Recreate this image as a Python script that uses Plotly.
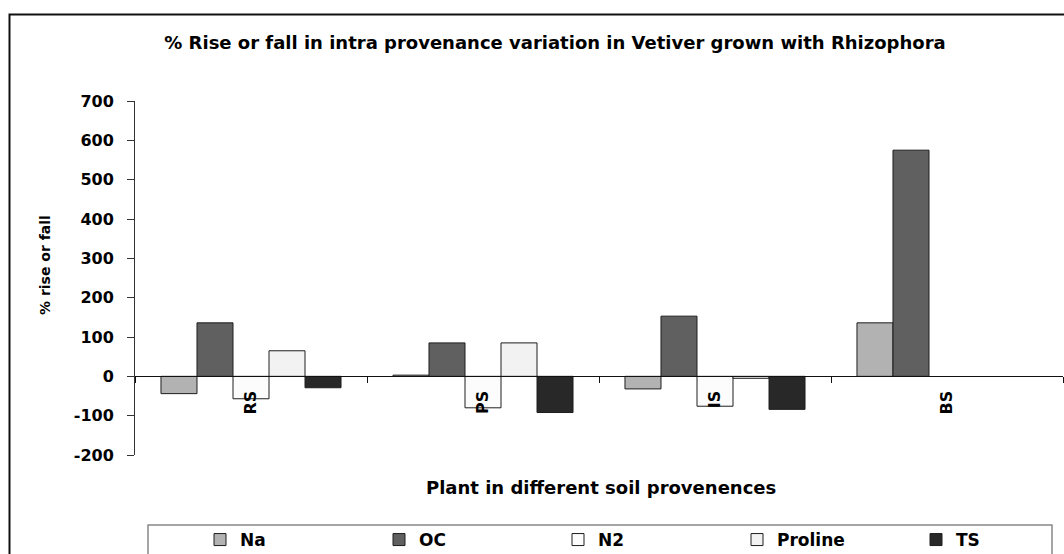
import plotly.graph_objects as go

categories = ["RS", "PS", "IS", "BS"]
series_names = ["Na", "OC", "N2", "Proline", "TS"]
na_values = [-44, 3, -32, 136]
oc_values = [136, 85, 153, 575]
n2_values = [-57, -80, -76, None]
proline_values = [65, 85, -5, None]
ts_values = [-29, -92, -84, None]
y_ticks = [-200, -100, 0, 100, 200, 300, 400, 500, 600, 700]
y_tick_labels = ["-200", "-100", "0", "100", "200", "300", "400", "500", "600", "700"]

title_text = "% Rise or fall in intra provenance variation in Vetiver grown with Rhizophora"
x_title = "Plant in different soil provenences"
y_title = "% rise or fall"

colors = ["#b2b2b2", "#606060", "#fcfcfc", "#f2f2f2", "#282828"]
values = [na_values, oc_values, n2_values, proline_values, ts_values]

W, H = 1064, 554
ML, MR, MT, MB = 135, 1, 101, 99
PW = W - ML - MR
PH = H - MT - MB

def px_x(px):
    return (px - ML) / PW

def px_y(py):
    return (H - MB - py) / PH

FONT = "DejaVu Sans"

fig = go.Figure()
for name, vals, col in zip(series_names, values, colors):
    fig.add_trace(go.Bar(
        name=name, x=categories, y=vals,
        marker=dict(color=col, line=dict(color="#1e1e1e", width=1)),
    ))

ymin, ymax = -200, 700
fig.update_layout(
    width=W, height=H,
    margin=dict(l=ML, r=MR, t=MT, b=MB, autoexpand=False),
    paper_bgcolor="white", plot_bgcolor="white",
    barmode="group", bargap=0.224, bargroupgap=0,
    title=dict(text=title_text, xref="container", yref="container",
               x=555 / W, y=1 - 43 / H, xanchor="center", yanchor="middle",
               font=dict(family=FONT, size=18, color="black", weight="bold")),
    xaxis=dict(type="category", anchor="free", position=(0 - ymin) / (ymax - ymin),
               showline=True, linecolor="#111", linewidth=1,
               ticks="outside", tickson="boundaries", ticklen=6, tickcolor="#111",
               tickangle=-90, ticklabelstandoff=7,
               tickfont=dict(family=FONT, size=16, color="black", weight="bold"),
               showgrid=False, zeroline=False),
    yaxis=dict(range=[ymin, ymax], tickvals=y_ticks, ticktext=y_tick_labels, showline=True,
               linecolor="#333", linewidth=1, ticks="outside", ticklen=7,
               tickcolor="#333", ticklabelstandoff=10,
               tickfont=dict(family=FONT, size=16, color="black", weight="bold"),
               showgrid=False, zeroline=False),
    showlegend=True,
    legend=dict(orientation="h", xref="paper", yref="paper",
                x=px_x(200), y=px_y(540), xanchor="left", yanchor="middle",
                entrywidth=134, entrywidthmode="pixels",
                bgcolor="rgba(0,0,0,0)", borderwidth=0,
                font=dict(family=FONT, size=17, color="black", weight="bold")),
    shapes=[
        dict(type="rect", xref="paper", yref="paper",
             x0=px_x(9.5), x1=px_x(1100), y0=px_y(600), y1=px_y(14.5),
             line=dict(color="#111", width=2), fillcolor="rgba(0,0,0,0)", layer="below"),
        dict(type="rect", xref="paper", yref="paper",
             x0=px_x(148), x1=px_x(1052), y0=px_y(570), y1=px_y(525),
             line=dict(color="#888", width=1.5), fillcolor="rgba(0,0,0,0)", layer="below"),
    ],
    annotations=[
        dict(text=x_title, xref="paper", yref="paper", x=px_x(601), y=px_y(487),
             xanchor="center", yanchor="middle", showarrow=False,
             font=dict(family=FONT, size=18, color="black", weight="bold")),
        dict(text=y_title, xref="paper", yref="paper", x=px_x(45), y=px_y(265),
             xanchor="center", yanchor="middle", showarrow=False, textangle=-90,
             font=dict(family=FONT, size=14, color="black", weight="bold")),
    ],
)

fig.write_html("out.html", config={"displayModeBar": False},
               post_script="document.body.style.margin='0';document.body.style.overflow='hidden';")
